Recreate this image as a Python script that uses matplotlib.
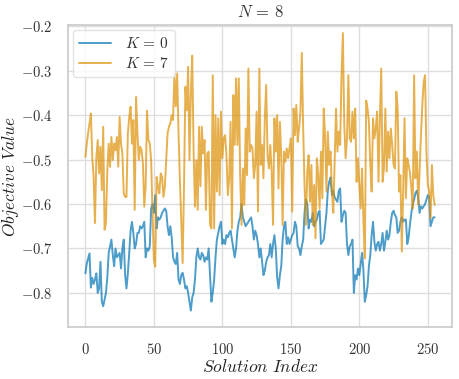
import numpy as np
import matplotlib
matplotlib.use('Agg')
import matplotlib.pyplot as plt
import seaborn as sns
from matplotlib.ticker import FuncFormatter

# objective value of every solution of the N=8 landscape
k0_vals = [
    -0.756, -0.734, -0.722, -0.711, -0.788, -0.766, -0.780, -0.770,
    -0.756, -0.800, -0.790, -0.730, -0.820, -0.830, -0.815, -0.800,
    -0.766, -0.710, -0.695, -0.680, -0.715, -0.740, -0.700, -0.720,
    -0.715, -0.710, -0.745, -0.700, -0.680, -0.760, -0.790, -0.756,
    -0.710, -0.660, -0.640, -0.665, -0.700, -0.690, -0.665, -0.665,
    -0.650, -0.655, -0.650, -0.640, -0.720, -0.700, -0.705, -0.695,
    -0.610, -0.600, -0.620, -0.580, -0.655, -0.630, -0.635, -0.630,
    -0.620, -0.615, -0.610, -0.615, -0.650, -0.670, -0.650, -0.675,
    -0.720, -0.730, -0.735, -0.710, -0.770, -0.780, -0.760, -0.755,
    -0.770, -0.790, -0.785, -0.800, -0.820, -0.840, -0.810, -0.800,
    -0.770, -0.720, -0.700, -0.720, -0.725, -0.710, -0.715, -0.730,
    -0.720, -0.725, -0.700, -0.760, -0.820, -0.800, -0.770, -0.720,
    -0.680, -0.665, -0.650, -0.640, -0.690, -0.680, -0.690, -0.670,
    -0.675, -0.665, -0.660, -0.680, -0.700, -0.720, -0.700, -0.660,
    -0.640, -0.630, -0.600, -0.630, -0.640, -0.650, -0.645, -0.640,
    -0.635, -0.630, -0.650, -0.680, -0.660, -0.670, -0.690, -0.720,
    -0.700, -0.730, -0.760, -0.750, -0.730, -0.720, -0.715, -0.690,
    -0.720, -0.690, -0.670, -0.700, -0.765, -0.790, -0.760, -0.740,
    -0.680, -0.650, -0.640, -0.690, -0.675, -0.690, -0.680, -0.670,
    -0.665, -0.640, -0.650, -0.695, -0.700, -0.715, -0.695, -0.680,
    -0.620, -0.590, -0.600, -0.655, -0.635, -0.640, -0.620, -0.650,
    -0.640, -0.635, -0.620, -0.615, -0.690, -0.685, -0.680, -0.650,
    -0.620, -0.570, -0.550, -0.540, -0.580, -0.570, -0.585, -0.590,
    -0.595, -0.570, -0.565, -0.640, -0.625, -0.615, -0.620, -0.690,
    -0.715, -0.695, -0.690, -0.680, -0.800, -0.760, -0.770, -0.745,
    -0.760, -0.735, -0.710, -0.750, -0.820, -0.805, -0.785, -0.740,
    -0.715, -0.670, -0.640, -0.685, -0.705, -0.690, -0.685, -0.705,
    -0.690, -0.665, -0.705, -0.685, -0.660, -0.680, -0.670, -0.640,
    -0.620, -0.615, -0.625, -0.630, -0.665, -0.660, -0.640, -0.630,
    -0.640, -0.635, -0.635, -0.690, -0.675, -0.645, -0.620, -0.600,
    -0.590, -0.575, -0.570, -0.585, -0.620, -0.605, -0.610, -0.605,
    -0.600, -0.590, -0.580, -0.585, -0.650, -0.640, -0.630, -0.630,
]

k7_vals = [
    -0.494, -0.464, -0.440, -0.419, -0.396, -0.494, -0.539, -0.643,
    -0.494, -0.456, -0.531, -0.471, -0.569, -0.426, -0.658, -0.643,
    -0.524, -0.464, -0.516, -0.449, -0.501, -0.464, -0.479, -0.449,
    -0.516, -0.404, -0.464, -0.486, -0.576, -0.584, -0.584, -0.441,
    -0.404, -0.381, -0.464, -0.411, -0.613, -0.359, -0.441, -0.501,
    -0.471, -0.479, -0.509, -0.606, -0.560, -0.390, -0.456, -0.464,
    -0.501, -0.620, -0.726, -0.741, -0.539, -0.561, -0.576, -0.531,
    -0.539, -0.584, -0.561, -0.500, -0.441, -0.426, -0.419, -0.400,
    -0.411, -0.306, -0.380, -0.306, -0.440, -0.546, -0.636, -0.733,
    -0.560, -0.336, -0.389, -0.291, -0.501, -0.351, -0.266, -0.480,
    -0.606, -0.501, -0.613, -0.426, -0.560, -0.426, -0.486, -0.456,
    -0.613, -0.486, -0.482, -0.647, -0.655, -0.310, -0.655, -0.400,
    -0.572, -0.407, -0.580, -0.392, -0.497, -0.452, -0.445, -0.490,
    -0.580, -0.542, -0.415, -0.655, -0.355, -0.467, -0.317, -0.467,
    -0.317, -0.535, -0.647, -0.520, -0.602, -0.430, -0.535, -0.295,
    -0.482, -0.467, -0.475, -0.542, -0.512, -0.392, -0.617, -0.295,
    -0.512, -0.467, -0.542, -0.407, -0.332, -0.490, -0.520, -0.467,
    -0.527, -0.647, -0.407, -0.482, -0.400, -0.565, -0.415, -0.490,
    -0.647, -0.482, -0.505, -0.475, -0.497, -0.475, -0.452, -0.617,
    -0.385, -0.445, -0.377, -0.460, -0.430, -0.392, -0.260, -0.430,
    -0.557, -0.647, -0.527, -0.490, -0.595, -0.512, -0.647, -0.557,
    -0.677, -0.497, -0.535, -0.610, -0.482, -0.587, -0.385, -0.445,
    -0.572, -0.437, -0.512, -0.482, -0.572, -0.620, -0.500, -0.385,
    -0.482, -0.437, -0.467, -0.310, -0.215, -0.422, -0.497, -0.452,
    -0.310, -0.452, -0.460, -0.392, -0.452, -0.385, -0.550, -0.497,
    -0.557, -0.610, -0.520, -0.640, -0.722, -0.367, -0.385, -0.415,
    -0.512, -0.572, -0.407, -0.452, -0.430, -0.392, -0.550, -0.407,
    -0.295, -0.550, -0.520, -0.385, -0.527, -0.437, -0.497, -0.430,
    -0.467, -0.512, -0.520, -0.347, -0.385, -0.572, -0.535, -0.707,
    -0.572, -0.407, -0.587, -0.497, -0.512, -0.530, -0.565, -0.610,
    -0.310, -0.542, -0.482, -0.602, -0.527, -0.445, -0.377, -0.325,
    -0.310, -0.482, -0.557, -0.572, -0.632, -0.512, -0.580, -0.602,
]

k_labels = [r'$K\,=\,0$', r'$K\,=\,7$']
title = r'$N\,=\,8$'

sns.set_theme(style='whitegrid')
plt.rcParams['font.family'] = ['DejaVu Serif']
plt.rcParams['mathtext.fontset'] = 'cm'
plt.rcParams['axes.edgecolor'] = '#cccccc'
plt.rcParams['grid.color'] = '#dddddd'

colors = ['#0173b2', '#de8f05']

fig, ax = plt.subplots(figsize=(4.59, 3.79), dpi=100)
idx = np.arange(len(k0_vals))
ax.plot(idx, k0_vals, color=colors[0], alpha=0.7, lw=1.4, label=k_labels[0])
ax.plot(idx, k7_vals, color=colors[1], alpha=0.7, lw=1.4, label=k_labels[1])

ax.set_ylim(-0.877, -0.197)
ax.set_yticks([-0.8, -0.7, -0.6, -0.5, -0.4, -0.3, -0.2])
ax.set_xticks([0, 50, 100, 150, 200, 250])
ax.xaxis.set_major_formatter(FuncFormatter(lambda v, p: r'$%d$' % v))
ax.yaxis.set_major_formatter(FuncFormatter(lambda v, p: r'$%.1f$' % v))
ax.tick_params(labelsize=10.5, colors='#333333', pad=5)

ax.set_title(title, fontsize=12, color='#333333', pad=6)
ax.set_xlabel(r'$\mathit{Solution\ Index}$', fontsize=12.5, color='#222222', labelpad=1)
ax.set_ylabel(r'$\mathit{Objective\ Value}$', fontsize=12.5, color='#222222')
ax.yaxis.set_label_coords(-0.122, 0.5)

leg = ax.legend(loc='upper left', fontsize=11, frameon=True, handlelength=2.1,
                borderpad=0.4, labelspacing=0.3, handletextpad=0.9,
                borderaxespad=0.35)
leg.get_frame().set_edgecolor('#dddddd')
for t in leg.get_texts():
    t.set_color('#333333')

fig.subplots_adjust(left=0.148, right=0.985, top=0.934, bottom=0.137)
fig.savefig('out.png', dpi=100)
